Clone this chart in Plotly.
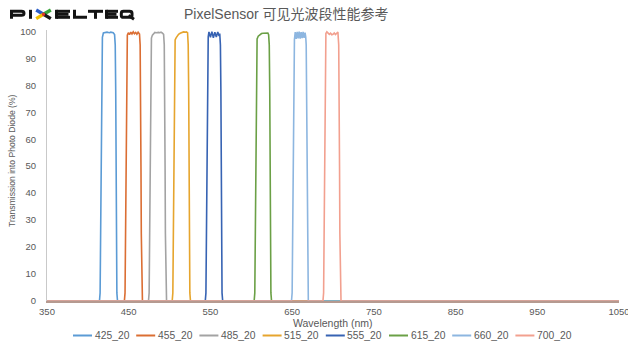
import plotly.graph_objects as go

# ---- filter transmission data (wavelength in nm, transmission in %) ----
names = ["425_20", "455_20", "485_20", "515_20", "555_20", "615_20", "660_20", "700_20"]

wl_425 = [350, 414.2, 415.0, 415.6, 416.0, 416.4, 417.0, 417.8, 419, 420.5, 422, 423.5, 425,
          426.5, 428, 429.5, 431, 432.7, 433.5, 434.1, 434.5, 434.9, 435.5, 436.3, 1050]
tr_425 = [0, 0, 3, 25, 50, 78, 95, 97.8, 99.4, 99.6, 99.5, 99.7, 99.6,
          99.5, 99.7, 99.6, 99.5, 98.8, 95, 78, 50, 25, 3, 0, 0]

wl_455 = [350, 444.7, 445.5, 446.1, 446.5, 446.9, 447.5, 448.3, 449.5, 451, 452.5, 454, 455.5,
          457, 458.5, 460, 461.5, 463.2, 464.0, 464.6, 465.0, 465.4, 466.0, 466.8, 1050]
tr_455 = [0, 0, 3, 25, 50, 78, 95, 98.6, 99.5, 98.8, 99.7, 99.0, 99.8,
          99.1, 99.6, 98.9, 99.7, 99.0, 95, 78, 50, 25, 3, 0, 0]

wl_485 = [350, 474.2, 475.0, 475.6, 476.0, 476.4, 477.0, 477.8, 479, 480.5, 482, 483.5, 485,
          486.5, 488, 489.5, 491, 492.7, 493.5, 494.1, 494.5, 494.9, 495.5, 496.3, 1050]
tr_485 = [0, 0, 3, 25, 50, 78, 95, 97.5, 98.6, 99.3, 99.6, 99.5, 99.7,
          99.6, 99.5, 99.7, 99.4, 98.9, 95, 78, 50, 25, 3, 0, 0]

wl_515 = [350, 503.2, 504.0, 504.6, 505.0, 505.4, 506.0, 506.8, 508, 509.5, 511, 513, 515,
          517, 519, 520.5, 522.0, 522.8, 523.4, 523.8, 524.2, 524.8, 525.6, 1050]
tr_515 = [0, 0, 3, 25, 50, 78, 94, 96.8, 97.6, 98.3, 98.9, 99.3, 99.6,
          99.8, 99.7, 99.8, 99.5, 95, 78, 50, 25, 3, 0, 0]

wl_555 = [350, 543.7, 544.5, 545.1, 545.5, 545.9, 546.5, 547.3, 548.2, 550.0, 551.8, 553.6,
          555.4, 557.2, 559.0, 560.6, 561.4, 562.2, 562.8, 563.2, 563.6, 564.2, 565.0, 1050]
tr_555 = [0, 0, 3, 25, 50, 78, 95, 98.0, 99.8, 97.8, 99.9, 97.6,
          99.7, 97.9, 99.8, 98.3, 99.2, 95, 78, 50, 25, 3, 0, 0]

wl_615 = [350, 603.5, 604.3, 604.9, 605.3, 605.7, 606.3, 607.1, 608.5, 610.5, 612.5, 614.5,
          616.5, 618.5, 620.3, 621.2, 622.0, 622.6, 623.0, 623.4, 624.0, 624.8, 1050]
tr_615 = [0, 0, 3, 25, 50, 78, 94, 97.2, 98.2, 98.8, 99.2, 99.3,
          99.4, 99.5, 99.4, 98.8, 95, 78, 50, 25, 3, 0, 0]

wl_660 = [350, 649.2, 650.0, 650.6, 651.0, 651.4, 652.0, 652.8, 653.8, 655.0, 656.2, 657.4,
          658.6, 659.8, 661.0, 662.2, 663.4, 664.6, 665.8, 666.6, 667.2, 667.6, 668.0, 668.4,
          669.0, 669.8, 1050]
tr_660 = [0, 0, 3, 25, 50, 78, 93, 97.0, 99.7, 97.2, 99.8, 97.4,
          99.9, 97.3, 99.7, 97.5, 99.8, 97.6, 99.5, 98.0, 95, 78, 50, 25,
          3, 0, 0]

wl_700 = [350, 687.7, 688.5, 689.1, 689.5, 689.9, 690.5, 691.3, 692.5, 694.0, 695.5, 697.0,
          698.5, 700.0, 701.5, 703.0, 704.5, 706.0, 707.0, 707.6, 708.0, 708.4, 709.0, 709.8, 1050]
tr_700 = [0, 0, 3, 25, 50, 78, 95, 99.2, 99.8, 99.4, 98.9, 99.3,
          98.7, 98.9, 99.4, 98.8, 99.5, 99.7, 95, 78, 50, 25, 3, 0, 0]

wavelengths = [wl_425, wl_455, wl_485, wl_515, wl_555, wl_615, wl_660, wl_700]
transmissions = [tr_425, tr_455, tr_485, tr_515, tr_555, tr_615, tr_660, tr_700]

x_ticks = [350, 450, 550, 650, 750, 850, 950, 1050]
y_ticks = [0, 10, 20, 30, 40, 50, 60, 70, 80, 90, 100]

colors = ["#5B9BD5", "#DB6E33", "#A3A3A3", "#E6A52E", "#3763B3", "#6BA046", "#8DB6E0", "#F2A08F"]

TEXT = "#595959"
FONT = "Liberation Sans, Arial, Noto Sans CJK SC, sans-serif"

# ---- page geometry (pixels) ----
W, H = 628, 346
ML, MR, MT, MB = 47, 9, 30, 45
PW, PH = W - ML - MR, H - MT - MB


def px(x):
    return (x - ML) / PW


def py(y):
    return (MT + PH - y) / PH


def path(*segs):
    out = []
    for seg in segs:
        cmd, pts = seg[0], seg[1:]
        coords = []
        for i in range(0, len(pts), 2):
            coords.append(f"{px(pts[i]):.5f},{py(pts[i + 1]):.5f}")
        out.append(cmd + " " + " ".join(coords))
    return " ".join(out)


fig = go.Figure()
for name, wl, tr, c in zip(names, wavelengths, transmissions, colors):
    fig.add_trace(go.Scatter(x=wl, y=tr, mode="lines", name=name,
                             line=dict(color=c, width=1.6), showlegend=False))

shapes = []
annotations = []

# ---- PIXELTEQ wordmark ----
INK = "#141414"
SW = 3.0
T0, B0 = 9.8, 18.8
TL, BL, MID = 11.3, 17.3, 14.3
logo_paths = [
    path(("M", 11.5, B0), ("L", 11.5, TL), ("L", 21.5, TL), ("Q", 24, TL, 24, 13.2),
         ("Q", 24, MID + 0.9, 21.5, MID + 0.9), ("L", 11.5, MID + 0.9)),
    path(("M", 30.5, T0), ("L", 30.5, B0)),
    path(("M", 56.5, T0), ("L", 56.5, B0)),
    path(("M", 56.5, TL), ("L", 70, TL)),
    path(("M", 56.5, MID), ("L", 68.5, MID)),
    path(("M", 56.5, BL), ("L", 70, BL)),
    path(("M", 74.5, T0), ("L", 74.5, BL), ("L", 87, BL)),
    path(("M", 88, TL), ("L", 103, TL)),
    path(("M", 95.5, TL), ("L", 95.5, B0)),
    path(("M", 106.5, T0), ("L", 106.5, B0)),
    path(("M", 106.5, TL), ("L", 118, TL)),
    path(("M", 106.5, MID), ("L", 116.5, MID)),
    path(("M", 106.5, BL), ("L", 118, BL)),
    path(("M", 123.5, TL), ("L", 129.5, TL), ("Q", 132, TL, 132, 13.2), ("L", 132, 15.4),
         ("Q", 132, BL, 129.5, BL), ("L", 123.5, BL), ("Q", 121.3, BL, 121.3, 15.4),
         ("L", 121.3, 13.2), ("Q", 121.3, TL, 123.5, TL), ("Z",)),
    path(("M", 128.5, 15.6), ("L", 134, 19.2)),
]
for p in logo_paths:
    shapes.append(dict(type="path", xref="paper", yref="paper", path=p,
                       line=dict(color=INK, width=SW), layer="above"))

cx, cy = 43.5, MID
x_arms = [((36.2, 10.0), "#2C5FC9"), ((50.8, 10.0), "#3BA63C"),
          ((36.2, 18.6), "#F2C000"), ((50.8, 18.6), "#1A1A1A")]
for (ex, ey), c in x_arms:
    shapes.append(dict(type="path", xref="paper", yref="paper",
                       path=path(("M", cx, cy), ("L", ex, ey)),
                       line=dict(color=c, width=3.4), layer="above"))
shapes.append(dict(type="circle", xref="paper", yref="paper",
                   x0=px(cx - 1.7), x1=px(cx + 1.7), y0=py(cy + 1.7), y1=py(cy - 1.7),
                   fillcolor="#E0342E", line=dict(width=0), layer="above"))

# ---- title ----
annotations.append(dict(text="PixelSensor 可见光波段性能参考", x=px(182), y=py(14.2),
                        xref="paper", yref="paper", xanchor="left", yanchor="middle",
                        showarrow=False, font=dict(family=FONT, size=14, color=TEXT)))

# ---- axis titles ----
annotations.append(dict(text="Wavelength (nm)", x=px(333), y=py(322.5),
                        xref="paper", yref="paper", xanchor="center", yanchor="middle",
                        showarrow=False, font=dict(family=FONT, size=10.5, color=TEXT)))
annotations.append(dict(text="Transmission into Photo Diode (%)", x=px(12), y=py(161),
                        xref="paper", yref="paper", xanchor="center", yanchor="middle",
                        textangle=-90, showarrow=False,
                        font=dict(family=FONT, size=8.6, color=TEXT)))

# ---- legend row ----
LEG_Y = 335.5
for i, (name, c) in enumerate(zip(names, colors)):
    x0 = 73 + 63.2 * i
    shapes.append(dict(type="line", xref="paper", yref="paper",
                       x0=px(x0), x1=px(x0 + 19), y0=py(LEG_Y), y1=py(LEG_Y),
                       line=dict(color=c, width=2)))
    annotations.append(dict(text=name, x=px(x0 + 19.5), y=py(LEG_Y),
                            xref="paper", yref="paper", xanchor="left", yanchor="middle",
                            showarrow=False, font=dict(family=FONT, size=10.3, color=TEXT)))

fig.update_layout(
    width=W, height=H,
    margin=dict(l=ML, r=MR, t=MT, b=MB, pad=0, autoexpand=False),
    paper_bgcolor="white", plot_bgcolor="white",
    showlegend=False,
    shapes=shapes, annotations=annotations,
    xaxis=dict(range=[350, 1050.001], tickvals=x_ticks, ticktext=[str(v) for v in x_ticks],
               automargin=False,
               showgrid=False, zeroline=False, showline=True, linecolor="#B59A90",
               linewidth=2, layer="above traces", ticks="", ticklabelstandoff=1,
               ticklabeloverflow="allow",
               tickfont=dict(family=FONT, size=9.5, color=TEXT)),
    yaxis=dict(range=[0, 100.5], tickvals=y_ticks, showgrid=False, zeroline=False,
               automargin=False,
               showline=True, linecolor="#C9C9C9", linewidth=1, ticks="",
               ticklabelstandoff=8, tickfont=dict(family=FONT, size=9.5, color=TEXT)),
)

fig.write_html("out.html")
